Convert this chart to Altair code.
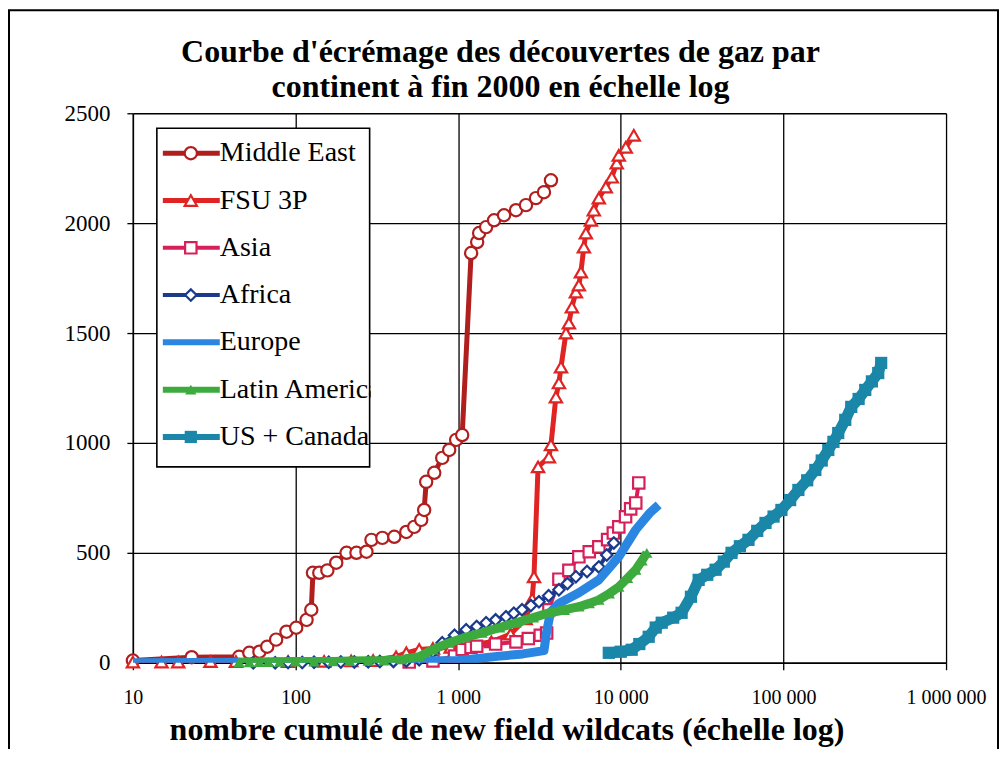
import altair as alt
import pandas as pd

# ------------------------------------------------------------------ data
series_names = ["Middle East", "FSU 3P", "Asia", "Africa", "Europe",
                "Latin America", "US + Canada"]
legend_labels = ["Middle East", " FSU 3P", "Asia", "Africa", "Europe",
                 "Latin America", "US + Canada"]
series_colors = ["#B01E1E", "#E02424", "#D6205A", "#1B3A8C", "#2A86E0",
                 "#3DAA3D", "#1A87A8"]

title_lines = ["Courbe d'écrémage des découvertes de gaz par",
               "continent à fin 2000 en échelle log"]
x_title = "nombre cumulé de new field wildcats (échelle log)"

me_x = [10, 23, 45, 52, 60, 67, 76, 88, 101, 117, 125, 128, 140, 157, 178,
        206, 237, 273, 293, 342, 405, 480, 537, 593, 618, 636, 713, 798, 881,
        972, 1059, 1202, 1309, 1346, 1486, 1663, 1915, 2268, 2612, 3010,
        3371, 3722]
me_y = [10, 25, 27, 45, 50, 73, 105, 141, 159, 195, 241, 409, 409, 420, 455,
        500, 500, 505, 559, 568, 573, 595, 618, 650, 695, 823, 864, 932, 968,
        1014, 1036, 1864, 1914, 1955, 1982, 2013, 2036, 2059, 2082, 2114,
        2141, 2195]

fsu_x = [10, 15, 19, 30, 43, 90, 150, 220, 300, 415, 480, 576, 700, 900,
         1200, 1600, 2100, 2600, 2850, 2926, 3100, 3616, 3722, 3990, 4165,
         4290, 4600, 4797, 5005, 5297, 5524, 5686, 5929, 6100, 6546, 6826,
         7328, 8091, 8806, 9446, 9720, 10730, 12020]
fsu_y = [3, 3, 3, 5, 5, 5, 6, 8, 10, 27, 45, 60, 65, 70, 80, 95, 130, 200,
         290, 391, 891, 936, 991, 1209, 1273, 1345, 1500, 1545, 1618, 1686,
         1718, 1777, 1891, 1955, 2013, 2059, 2114, 2164, 2209, 2273, 2309,
         2345, 2400]

asia_x = [500, 700, 950, 1059, 1200, 1300, 1700, 2268, 2700, 3200, 3500,
          3616, 4165, 4797, 5524, 6400, 7328, 8300, 9000, 9720, 10700,
          11500, 12360, 12900]
asia_y = [3, 8, 30, 60, 70, 75, 85, 95, 110, 125, 135, 241, 380, 420, 482,
          505, 527, 560, 590, 618, 664, 700, 727, 818]

africa_x = [55, 75, 90, 110, 130, 160, 190, 230, 280, 330, 400, 480, 576,
            700, 798, 950, 1120, 1300, 1486, 1700, 1969, 2200, 2470, 2800,
            3140, 3600, 4165, 4700, 5297, 6200, 7328, 8200, 9060]
africa_y = [0, 0, 1, 1, 2, 2, 3, 3, 4, 5, 6, 8, 14, 50, 91, 125, 150, 165,
            182, 195, 209, 225, 241, 260, 277, 305, 332, 360, 391, 415, 436,
            490, 545]

europe_x = [10, 45, 100, 300, 1000, 1800, 2500, 3370, 3500, 3700, 4165,
            5524, 7328, 9720, 12360, 15000, 17100]
europe_y = [0, 2, 3, 5, 10, 30, 40, 55, 140, 230, 270, 318, 377, 482, 605,
            680, 718]

latam_x = [45, 52, 60, 68, 80, 100, 130, 170, 215, 280, 350, 450, 576, 700,
           881, 1100, 1403, 1800, 2268, 2900, 3616, 4500, 5524, 6400, 7328,
           8500, 9720, 11000, 12360, 13500, 14450]
latam_y = [2, 2, 3, 3, 4, 5, 5, 6, 8, 9, 10, 15, 27, 60, 91, 115, 136, 160,
           182, 205, 227, 240, 255, 270, 286, 315, 345, 385, 423, 465, 500]

us_x = [8440, 10000, 11670, 13000, 14850, 16400, 17860, 21000, 23660, 27000,
        30120, 34000, 38280, 43000, 47980, 54000, 60990, 69000, 77590, 87000,
        97200, 110000, 123600, 140000, 157100, 172000, 188800, 203000,
        217300, 240000, 261200, 290000, 318500, 350000, 382800, 399100]
us_y = [45, 50, 59, 85, 118, 160, 182, 205, 227, 300, 377, 400, 423, 460,
        500, 530, 559, 600, 636, 665, 695, 740, 786, 830, 877, 920, 968, 1005,
        1045, 1105, 1164, 1200, 1241, 1280, 1318, 1364]

tick_x = [10, 100, 1000, 10000, 100000, 1000000]
tick_y = [0, 500, 1000, 1500, 2000, 2500]

series_x = [me_x, fsu_x, asia_x, africa_x, europe_x, latam_x, us_x]
series_y = [me_y, fsu_y, asia_y, africa_y, europe_y, latam_y, us_y]

# ------------------------------------------------------------------ styles
line_width = [5, 5, 4, 4, 9, 9, 11]
marker_shape = ["circle", "triangle-up", "square", "diamond", None,
                "triangle-up", "square"]
marker_hollow = [True, True, True, True, False, False, False]
marker_size = [150, 150, 130, 130, 0, 130, 150]

SERIF = "Liberation Serif"

xscale = alt.Scale(type="log", domain=[10, 1000000])
yscale = alt.Scale(domain=[0, 2500], nice=False, zero=False)

xaxis = alt.Axis(
    values=tick_x, grid=True, gridColor="#000000", gridWidth=1.3,
    gridOpacity=1, domainColor="#000000", domainWidth=1.5,
    tickColor="#000000", tickSize=7, tickWidth=1.3,
    labelFont=SERIF, labelFontSize=20, labelColor="#000000", labelPadding=18,
    labelExpr="replace(replace(format(datum.value, ','), ',', ' '), ',', ' ')",
    labelFlush=False, labelOverlap=False,
    title=x_title,
    titleFont=SERIF, titleFontSize=32, titleFontWeight="bold",
    titleColor="#000000", titleX=374, titleY=77, titleAlign="center",
    titleBaseline="alphabetic", titleAnchor="middle",
)
yaxis = alt.Axis(
    values=tick_y, grid=True, gridColor="#000000", gridWidth=1.3,
    gridOpacity=1, domainColor="#000000", domainWidth=1.5,
    tickColor="#000000", tickSize=6, tickWidth=1.3,
    labelFont=SERIF, labelFontSize=23, labelColor="#000000", labelPadding=17,
    format="d", labelFlush=False, labelOverlap=False, title=None,
)

layers = []
for i, name in enumerate(series_names):
    df = pd.DataFrame({"x": series_x[i], "y": series_y[i], "series": name})
    base = alt.Chart(df).encode(
        x=alt.X("x:Q", scale=xscale, axis=xaxis),
        y=alt.Y("y:Q", scale=yscale, axis=yaxis),
    )
    layers.append(base.mark_line(color=series_colors[i],
                                 strokeWidth=line_width[i],
                                 strokeJoin="round", clip=True))
    if marker_shape[i]:
        if marker_hollow[i]:
            pt = base.mark_point(shape=marker_shape[i], filled=True,
                                 fill="#FFFFFF", stroke=series_colors[i],
                                 strokeWidth=2.2, size=marker_size[i], opacity=1)
        else:
            pt = base.mark_point(shape=marker_shape[i], filled=True,
                                 color=series_colors[i], size=marker_size[i],
                                 opacity=1)
        layers.append(pt)

main = alt.layer(*layers)

# ------------------------------------------------------------------ legend
leg_df = pd.DataFrame({"name": series_names, "label": legend_labels})
ly = alt.Y("name:N", axis=None,
           scale=alt.Scale(type="point", domain=series_names,
                           range=[40, 324], padding=0))
one = pd.DataFrame({"a": [0]})
leg_layers = [
    alt.Chart(one).mark_rect(fill="#FFFFFF", strokeWidth=0).encode(
        x=alt.value(24), x2=alt.value(237), y=alt.value(15), y2=alt.value(354))
]
for i, name in enumerate(series_names):
    c = alt.Chart(leg_df).transform_filter(alt.datum.name == name)
    leg_layers.append(c.mark_rule(color=series_colors[i],
                                  strokeWidth=min(line_width[i], 6)).encode(
        x=alt.value(30), x2=alt.value(87), y=ly))
    if marker_shape[i]:
        if marker_hollow[i]:
            leg_layers.append(c.mark_point(
                shape=marker_shape[i], filled=True, fill="#FFFFFF",
                stroke=series_colors[i], strokeWidth=2.2,
                size=marker_size[i], opacity=1).encode(
                x=alt.value(58), y=ly))
        else:
            leg_layers.append(c.mark_point(
                shape=marker_shape[i], filled=True, color=series_colors[i],
                size=marker_size[i], opacity=1).encode(
                x=alt.value(58), y=ly))
leg_layers.append(alt.Chart(leg_df).mark_text(
    align="left", baseline="middle", font=SERIF, fontSize=28,
    color="#000000").encode(x=alt.value(87), y=ly, text="label:N"))
# mask the part of the labels that runs past the legend box
leg_layers.append(alt.Chart(one).mark_rect(fill="#FFFFFF", strokeWidth=0).encode(
    x=alt.value(238), x2=alt.value(262), y=alt.value(260), y2=alt.value(290)))
leg_layers.append(alt.Chart(one).mark_rect(fill=None, stroke="#000000",
                                           strokeWidth=1.6).encode(
    x=alt.value(24), x2=alt.value(237), y=alt.value(15), y2=alt.value(354)))

legend = alt.layer(*leg_layers)

# chart title (two lines)
ttl = alt.layer(
    alt.Chart(one).mark_text(font=SERIF, fontSize=32, fontWeight="bold",
                             color="#000000", align="center",
                             baseline="alphabetic").encode(
        x=alt.value(368), y=alt.value(-51), text=alt.value(title_lines[0])),
    alt.Chart(one).mark_text(font=SERIF, fontSize=32, fontWeight="bold",
                             color="#000000", align="center",
                             baseline="alphabetic").encode(
        x=alt.value(368), y=alt.value(-16), text=alt.value(title_lines[1])),
)

# outer frame of the picture
frame = alt.Chart(one).mark_rect(fill=None, stroke="#000000",
                                 strokeWidth=2).encode(
    x=alt.value(-124), x2=alt.value(866), y=alt.value(-103), y2=alt.value(700))

chart = alt.layer(main, legend, ttl, frame).resolve_scale(
    y="independent").properties(
    width=814, height=550,
    padding={"left": 125, "top": 105, "right": 53, "bottom": 86},
    autosize=alt.AutoSizeParams(type="none"),
).configure_view(stroke="#000000", strokeWidth=1.3).configure(background="#FFFFFF")

chart.save("out.html", embed_options={"renderer": "svg", "actions": False})
